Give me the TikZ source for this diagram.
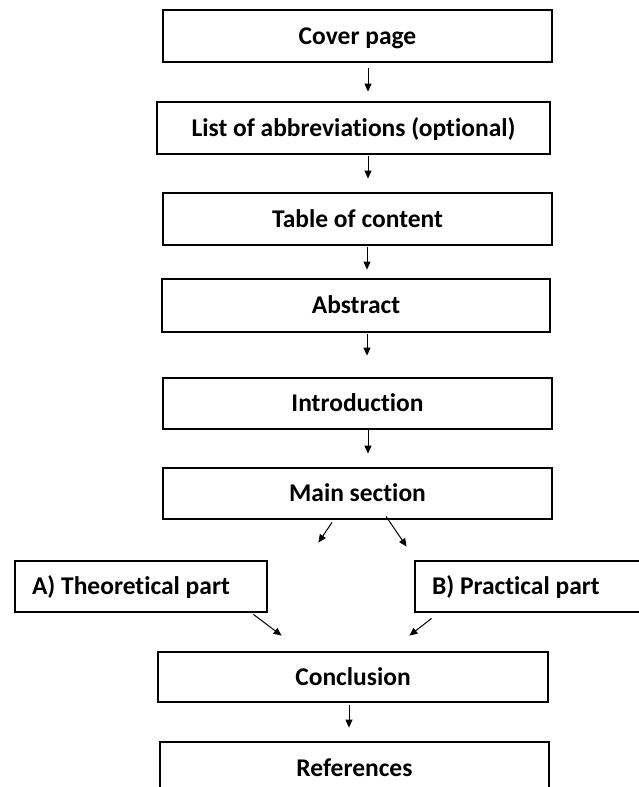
\documentclass[tikz,border=0pt]{standalone}
\usepackage{fontspec}
\setmainfont{Carlito}[Ligatures={NoCommon}]
\usetikzlibrary{arrows.meta,calc}
\begin{document}
\begin{tikzpicture}[x=1pt,y=-1pt,
  box/.style={draw=black,line width=2.8pt,rectangle,minimum width=389pt,minimum height=52pt,
    inner sep=0pt,text height=16.4pt,text depth=0pt,
    font=\fontsize{25.5}{30}\selectfont\bfseries},
  sidebox/.style={box,minimum width=0pt,inner xsep=17pt},
  arr/.style={draw=black,line width=1pt,-{Triangle[length=8pt,width=7pt]}}]
\useasboundingbox (0,0) rectangle (638,787);
\node[box] (cover) at (357.5,36) {Cover page};
\node[box,minimum width=393pt] (list) at (353.5,128) {List of abbreviations (optional)};
\node[box] (toc) at (357.5,219) {Table of content};
\node[box,minimum width=388pt,minimum height=53pt] (abs) at (356,305.5) {Abstract};
\node[box,minimum height=51pt] (intro) at (357.5,403.5) {Introduction};
\node[box,minimum height=51pt] (main) at (357.5,493.5) {Main section};
\node[sidebox,minimum height=51pt] (A) at (141,586.5) {\makebox[218pt][l]{A) Theoretical part}};
\node[sidebox,minimum height=51pt] (B) at (545,586.5) {\makebox[226pt][l]{B) Practical part}};
\node[box,minimum width=390pt,minimum height=50pt] (concl) at (353,677) {Conclusion};
\node[box] (refs) at (354.5,768) {References};
\draw[arr] ($(cover.south)+(10.5,5)$) -- ($(list.north)+(14.5,-9)$);
\draw[arr] ($(list.south)+(14.5,1)$) -- ($(toc.north)+(10.5,-13)$);
\draw[arr] ($(toc.south)+(9.5,1)$) -- ($(abs.north)+(11,-8)$);
\draw[arr] ($(abs.south)+(11,1)$) -- ($(intro.north)+(9.5,-21)$);
\draw[arr] ($(intro.south)+(10.5,0)$) -- ($(main.north)+(10.5,-13)$);
\draw[arr] ($(main.south)+(-25.5,2)$) -- ($(A.north east)+(50,-17)$);
\draw[arr] ($(main.south)+(28.5,-4)$) -- ($(B.north west)+(-7,-13)$);
\draw[arr] ($(A.south east)+(-15,1)$) -- ($(concl.north west)+(125,-15)$);
\draw[arr] ($(B.south west)+(18,5)$) -- ($(concl.north east)+(-140,-15)$);
\draw[arr] ($(concl.south)+(-4,2)$) -- ($(refs.north)+(-5.5,-13)$);
\end{tikzpicture}
\end{document}
